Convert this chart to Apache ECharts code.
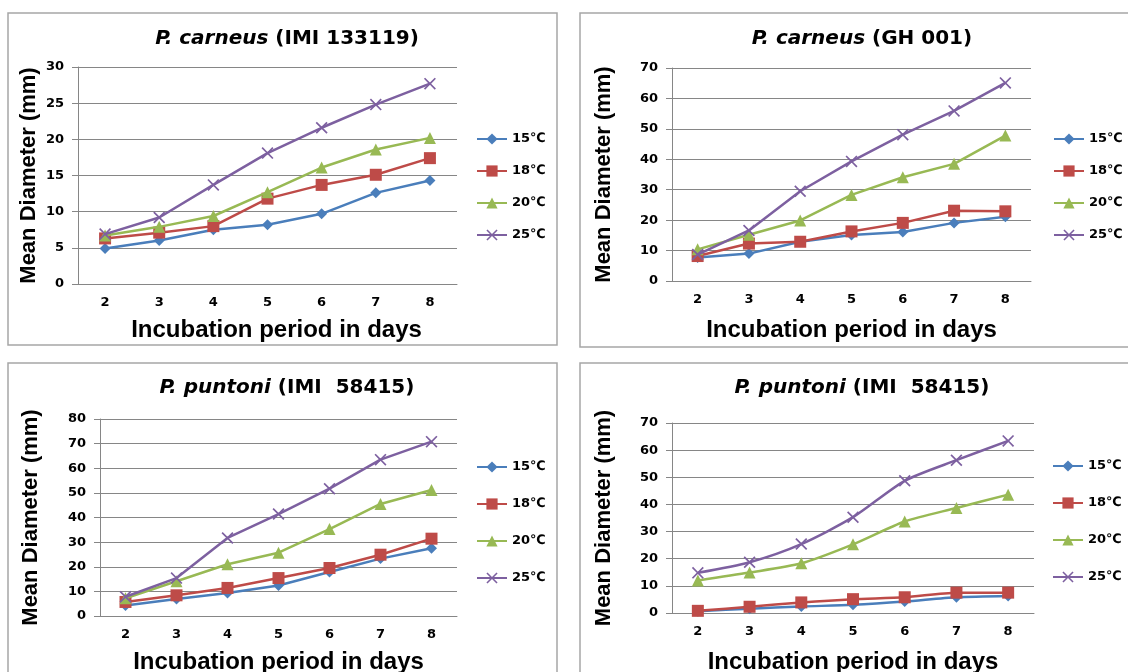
<!DOCTYPE html>
<html>
<head>
<meta charset="utf-8">
<script src="https://cdn.jsdelivr.net/npm/echarts@6/dist/echarts.min.js"></script>
<style>
  html, body { margin: 0; padding: 0; background: #fff; }
  #main { width: 1128px; height: 672px; }
</style>
</head>
<body>
<div id="main"></div>
<script>
let dom = document.getElementById("main");
let myChart = echarts.init(dom);

// shared data
let days = ['2', '3', '4', '5', '6', '7', '8'];
let temps = ['15℃', '18℃', '20℃', '25℃'];

// P. carneus (IMI 133119)
let carneusIMI_15 = [4.9, 6.0, 7.5, 8.2, 9.7, 12.6, 14.3];
let carneusIMI_18 = [6.3, 7.1, 8.0, 11.8, 13.7, 15.1, 17.4];
let carneusIMI_20 = [6.7, 7.9, 9.4, 12.7, 16.1, 18.6, 20.2];
let carneusIMI_25 = [6.9, 9.2, 13.7, 18.1, 21.6, 24.8, 27.7];

// P. carneus (GH 001)
let carneusGH_15 = [7.7, 9.0, 12.9, 15.1, 16.1, 19.1, 21.1];
let carneusGH_18 = [8.2, 12.3, 12.9, 16.3, 19.1, 23.1, 22.9];
let carneusGH_20 = [10.4, 15.2, 19.9, 28.3, 34.1, 38.5, 47.8];
let carneusGH_25 = [8.7, 16.6, 29.5, 39.3, 48.1, 55.9, 65.1];

// P. puntoni (IMI 58415) left
let puntoniA_15 = [4.3, 6.9, 9.3, 12.4, 17.9, 23.3, 27.5];
let puntoniA_18 = [5.7, 8.4, 11.4, 15.4, 19.5, 24.9, 31.4];
let puntoniA_20 = [7.2, 14.1, 21.0, 25.7, 35.3, 45.5, 51.2];
let puntoniA_25 = [7.8, 15.4, 31.7, 41.4, 51.7, 63.5, 70.8];

// P. puntoni (IMI 58415) right
let puntoniB_15 = [0.6, 1.6, 2.4, 3.0, 4.2, 5.8, 6.3];
let puntoniB_18 = [0.8, 2.3, 3.9, 5.1, 5.8, 7.5, 7.5];
let puntoniB_20 = [12.0, 14.9, 18.3, 25.3, 33.7, 38.7, 43.6];
let puntoniB_25 = [14.8, 18.7, 25.4, 35.3, 48.7, 56.3, 63.4];

let yMax = [30, 70, 80, 70];
let yStep = [5, 10, 10, 10];

let titles = [
    ['P. carneus', ' (IMI 133119)'],
    ['P. carneus', ' (GH 001)'],
    ['P. puntoni', ' (IMI  58415)'],
    ['P. puntoni', ' (IMI  58415)']
];

let panelData = [
    [carneusIMI_15, carneusIMI_18, carneusIMI_20, carneusIMI_25],
    [carneusGH_15, carneusGH_18, carneusGH_20, carneusGH_25],
    [puntoniA_15, puntoniA_18, puntoniA_20, puntoniA_25],
    [puntoniB_15, puntoniB_18, puntoniB_20, puntoniB_25]
];

let colors = ['#4a7ebb', '#be4b48', '#98b954', '#7d60a0'];
let crossPath = 'path://M0,1L1,0L5,4L9,0L10,1L6,5L10,9L9,10L5,6L1,10L0,9L4,5Z';
let symbols = ['diamond', 'rect', 'triangle', crossPath];
let symbolSizes = [11, 12, 12, 12];

// layout per panel
let grids = [
    {left: 78, top: 67, width: 379, height: 217},
    {left: 672, top: 68, width: 359, height: 213},
    {left: 100, top: 419, width: 357, height: 197},
    {left: 672, top: 423, width: 362, height: 190}
];
let titlePos = [{x: 282, y: 24}, {x: 857, y: 24}, {x: 282, y: 373}, {x: 857, y: 373}];
let legendPos = [
    {left: 471, top: 127, gap: 18},
    {left: 1048, top: 127, gap: 18},
    {left: 471, top: 455, gap: 23},
    {left: 1047, top: 454, gap: 23}
];
let yNameGap = [38, 57, 58, 57];
let xNameGap = [34, 37, 34, 37];
let xNameShift = [18, 0, 0, 0];

let wideFont = '"DejaVu Sans", sans-serif';
let nameFont = '"Liberation Sans", Arial, sans-serif';

let option = {
    backgroundColor: '#fff',
    animation: false,
    title: [],
    legend: [],
    grid: [],
    xAxis: [],
    yAxis: [],
    series: [],
    graphic: [
        {type: 'rect', shape: {x: 8, y: 13, width: 549, height: 332}, style: {fill: 'none', stroke: '#a6a6a6', lineWidth: 1.5}},
        {type: 'rect', shape: {x: 580, y: 13, width: 560, height: 334}, style: {fill: 'none', stroke: '#a6a6a6', lineWidth: 1.5}},
        {type: 'rect', shape: {x: 8, y: 363, width: 549, height: 330}, style: {fill: 'none', stroke: '#a6a6a6', lineWidth: 1.5}},
        {type: 'rect', shape: {x: 580, y: 363, width: 560, height: 330}, style: {fill: 'none', stroke: '#a6a6a6', lineWidth: 1.5}}
    ]
};

for (let p = 0; p < 4; p++) {
    option.title.push({
        text: '{i|' + titles[p][0] + '}{n|' + titles[p][1] + '}',
        left: titlePos[p].x,
        top: titlePos[p].y,
        textAlign: 'center',
        textStyle: {
            rich: {
                i: {fontFamily: wideFont, fontSize: 20, fontWeight: 'bold', fontStyle: 'italic', color: '#000'},
                n: {fontFamily: wideFont, fontSize: 20, fontWeight: 'bold', color: '#000'}
            }
        }
    });
    option.legend.push({
        orient: 'vertical',
        left: legendPos[p].left,
        top: legendPos[p].top,
        itemGap: legendPos[p].gap,
        itemWidth: 30,
        itemHeight: 14,
        data: temps,
        textStyle: {fontFamily: wideFont, fontSize: 13, fontWeight: 'bold', color: '#000', lineHeight: 14}
    });
    option.grid.push(Object.assign({containLabel: false, outerBoundsMode: 'none'}, grids[p]));
    option.xAxis.push({
        type: 'category',
        gridIndex: p,
        data: days,
        name: 'Incubation period in days',
        nameLocation: 'middle',
        nameGap: xNameGap[p],
        nameTextStyle: {
            fontFamily: nameFont, fontSize: 24, fontWeight: 'bold', color: '#000',
            padding: [0, 0, 0, xNameShift[p]]
        },
        axisLine: {lineStyle: {color: '#868686', width: 1}},
        axisTick: {length: 6, lineStyle: {color: '#868686'}},
        axisLabel: {fontFamily: wideFont, fontSize: 13, fontWeight: 'bold', color: '#000', margin: 12}
    });
    option.yAxis.push({
        type: 'value',
        gridIndex: p,
        min: 0,
        max: yMax[p],
        interval: yStep[p],
        name: 'Mean Diameter (mm)',
        nameLocation: 'middle',
        nameGap: yNameGap[p],
        nameTextStyle: {fontFamily: nameFont, fontSize: 22, fontWeight: 'bold', color: '#000'},
        axisLine: {show: true, lineStyle: {color: '#868686', width: 1}},
        axisTick: {show: true, length: 6, lineStyle: {color: '#868686'}},
        axisLabel: {fontFamily: wideFont, fontSize: 13, fontWeight: 'bold', color: '#000', margin: 14},
        splitLine: {lineStyle: {color: '#868686', width: 1}}
    });
    for (let s = 0; s < 4; s++) {
        option.series.push({
            name: temps[s],
            type: 'line',
            xAxisIndex: p,
            yAxisIndex: p,
            data: panelData[p][s],
            smooth: p === 3 ? 0.25 : false,
            symbol: symbols[s],
            symbolSize: symbolSizes[s],
            color: colors[s],
            lineStyle: {width: 2.5, color: colors[s]},
            itemStyle: {color: colors[s]},
            z: 2 + s
        });
    }
}

if (option && typeof option === "object") {
    myChart.setOption(option, true);
    window.addEventListener("resize", function () {
        myChart.resize();
    });
}
</script>
</body>
</html>
